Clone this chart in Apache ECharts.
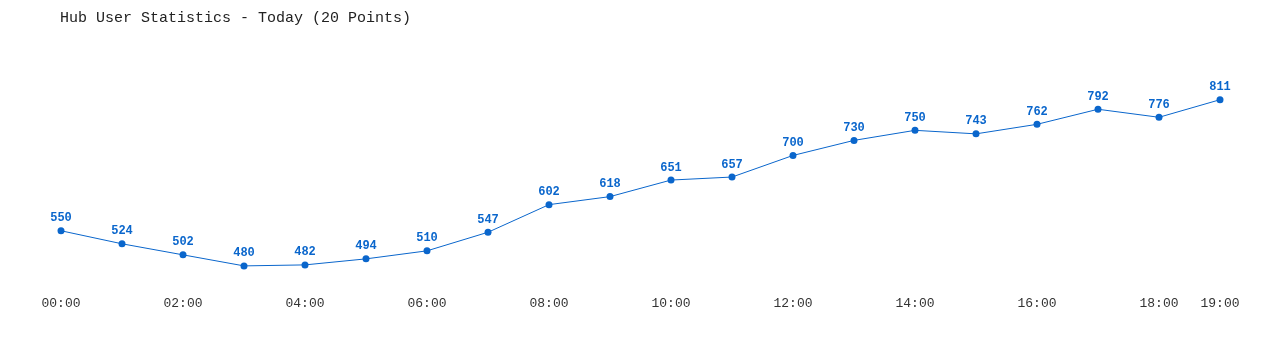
<!DOCTYPE html>
<html><head><meta charset="utf-8">
<script src="https://cdn.jsdelivr.net/npm/echarts@6/dist/echarts.min.js"></script>
<style>html,body{margin:0;padding:0;background:#fff}#c{width:1280px;height:350px}</style>
</head><body><div id="c"></div>
<script>
const titleText = 'Hub User Statistics - Today (20 Points)';
const categories = ['00:00','01:00','02:00','03:00','04:00','05:00','06:00','07:00','08:00','09:00','10:00','11:00','12:00','13:00','14:00','15:00','16:00','17:00','18:00','19:00'];
const users = [550,524,502,480,482,494,510,547,602,618,651,657,700,730,750,743,762,792,776,811];
const FONT = '"Liberation Mono", "DejaVu Sans Mono", monospace';
const chart = echarts.init(document.getElementById('c'));
chart.setOption({
  animation: false,
  title: { text: titleText, left: 55, top: 6, textStyle: { fontFamily: FONT, fontSize: 15, fontWeight: 'normal', color: '#222' } },
  grid: { left: 61, right: 60, top: 59, bottom: 60 },
  xAxis: {
    type: 'category', data: categories, boundaryGap: false,
    axisLine: { show: false }, axisTick: { show: false }, splitLine: { show: false },
    axisLabel: { interval: (i) => i % 2 === 0 || i === categories.length - 1, fontFamily: FONT, fontSize: 13, color: '#333', margin: 7 }
  },
  yAxis: {
    type: 'value', show: false,
    min: (v) => v.min * 0.9, max: (v) => v.max * 1.1,
    splitLine: { show: false }
  },
  series: [{
    type: 'line', data: users, symbol: 'circle', symbolSize: 7,
    lineStyle: { color: '#0a66cc', width: 1 }, itemStyle: { color: '#0a66cc' },
    label: { show: true, position: 'top', distance: 3, fontFamily: FONT, fontSize: 12, fontWeight: 'bold', color: '#0a66cc' }
  }]
});
</script></body></html>
